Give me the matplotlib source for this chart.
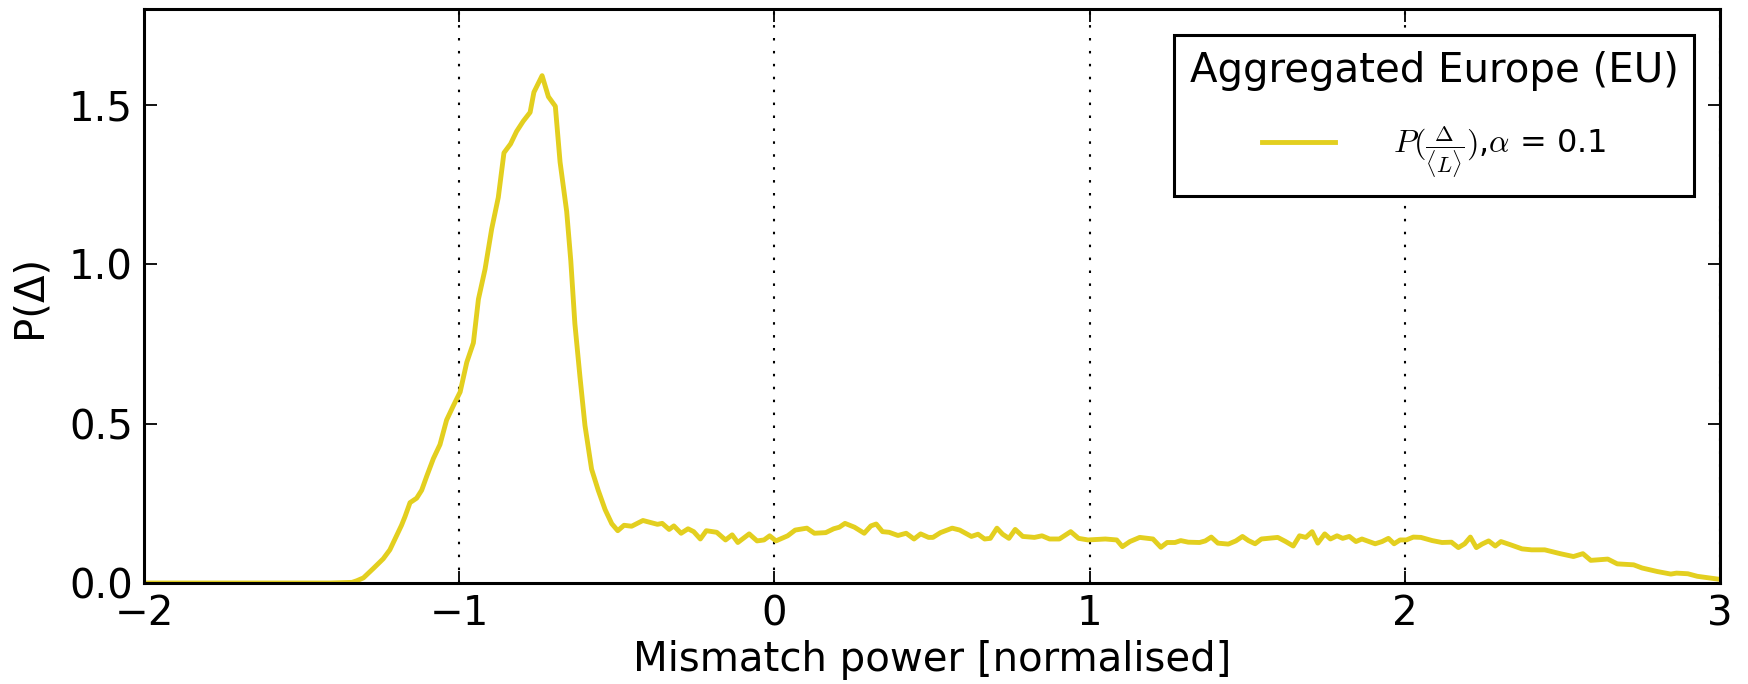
import matplotlib
matplotlib.use("Agg")
import matplotlib.pyplot as plt

# Mismatch distribution for aggregated Europe
mismatch = [
    -2.0, -1.6, -1.41, -1.34, -1.325, -1.304, -1.272, -1.241, -1.22, -1.204,
    -1.183, -1.172, -1.156, -1.135, -1.119, -1.103, -1.082, -1.061, -1.04, -1.019,
    -0.997, -0.976, -0.955, -0.939, -0.918, -0.897, -0.876, -0.858, -0.837, -0.818,
    -0.797, -0.775, -0.763, -0.737, -0.717, -0.695, -0.68, -0.659, -0.646, -0.633,
    -0.617, -0.601, -0.58, -0.559, -0.537, -0.516, -0.497, -0.477, -0.453, -0.417,
    -0.371, -0.356, -0.334, -0.319, -0.296, -0.274, -0.256, -0.235, -0.216, -0.183,
    -0.155, -0.134, -0.116, -0.08, -0.055, -0.033, -0.015, 0.005, 0.042, 0.066,
    0.103, 0.127, 0.163, 0.188, 0.206, 0.224, 0.254, 0.285, 0.306, 0.323,
    0.343, 0.364, 0.392, 0.418, 0.443, 0.464, 0.489, 0.503, 0.527, 0.564,
    0.588, 0.625, 0.646, 0.667, 0.685, 0.706, 0.724, 0.744, 0.764, 0.788,
    0.825, 0.849, 0.873, 0.904, 0.94, 0.965, 0.995, 1.05, 1.086, 1.104,
    1.128, 1.159, 1.201, 1.226, 1.246, 1.271, 1.289, 1.313, 1.349, 1.367,
    1.386, 1.407, 1.44, 1.464, 1.485, 1.504, 1.525, 1.545, 1.597, 1.622,
    1.646, 1.666, 1.686, 1.706, 1.724, 1.746, 1.764, 1.785, 1.803, 1.824,
    1.845, 1.864, 1.906, 1.928, 1.948, 1.966, 1.985, 2.005, 2.027, 2.051,
    2.087, 2.118, 2.148, 2.17, 2.19, 2.208, 2.227, 2.245, 2.266, 2.287,
    2.305, 2.335, 2.372, 2.402, 2.444, 2.493, 2.535, 2.565, 2.59, 2.644,
    2.674, 2.726, 2.753, 2.801, 2.844, 2.862, 2.898, 2.928, 2.965, 2.995,
]
density = [
    0.0, 0.0, 0.0, 0.002, 0.007, 0.016, 0.046, 0.076, 0.104, 0.137,
    0.181, 0.208, 0.252, 0.266, 0.291, 0.335, 0.39, 0.434, 0.511, 0.555,
    0.599, 0.692, 0.753, 0.89, 0.984, 1.11, 1.209, 1.349, 1.377, 1.416,
    1.448, 1.476, 1.539, 1.591, 1.525, 1.495, 1.32, 1.165, 1.011, 0.813,
    0.648, 0.494, 0.357, 0.291, 0.23, 0.186, 0.164, 0.181, 0.178, 0.196,
    0.184, 0.187, 0.168, 0.179, 0.156, 0.17, 0.161, 0.138, 0.164, 0.159,
    0.135, 0.151, 0.127, 0.154, 0.132, 0.135, 0.148, 0.132, 0.148, 0.166,
    0.172, 0.156, 0.158, 0.17, 0.175, 0.187, 0.175, 0.156, 0.179, 0.185,
    0.161, 0.159, 0.149, 0.156, 0.138, 0.154, 0.143, 0.143, 0.158, 0.172,
    0.166, 0.146, 0.153, 0.138, 0.14, 0.172, 0.153, 0.14, 0.168, 0.146,
    0.143, 0.148, 0.138, 0.138, 0.161, 0.14, 0.135, 0.138, 0.135, 0.114,
    0.13, 0.143, 0.138, 0.112, 0.127, 0.127, 0.133, 0.128, 0.127, 0.132,
    0.144, 0.125, 0.122, 0.132, 0.146, 0.133, 0.123, 0.138, 0.143, 0.13,
    0.116, 0.148, 0.143, 0.161, 0.125, 0.154, 0.138, 0.148, 0.14, 0.146,
    0.13, 0.138, 0.123, 0.13, 0.14, 0.123, 0.135, 0.135, 0.144, 0.143,
    0.133, 0.127, 0.128, 0.111, 0.123, 0.144, 0.111, 0.122, 0.132, 0.116,
    0.13, 0.12, 0.107, 0.104, 0.104, 0.092, 0.083, 0.092, 0.071, 0.075,
    0.06, 0.057, 0.047, 0.036, 0.028, 0.031, 0.029, 0.021, 0.016, 0.012,
]

x_ticks = [-2, -1, 0, 1, 2, 3]
y_ticks = [0.0, 0.5, 1.0, 1.5]

plt.rcParams["font.family"] = ["DejaVu Sans"]
plt.rcParams["mathtext.fontset"] = "cm"

fig = plt.figure(figsize=(17.48, 6.84), dpi=100)
ax = fig.add_axes([144 / 1748, 1 - 583 / 684, (1720 - 144) / 1748, (583 - 9) / 684])

ax.plot(mismatch, density, color="#e3cf1f", lw=3.5,
        label=r"$P(\frac{\Delta}{\langle L\rangle})$,$\alpha$ = 0.1")

ax.set_xlim(-2, 3)
ax.set_ylim(0, 1.8)
ax.set_xticks(x_ticks)
ax.set_yticks(y_ticks)
ax.set_yticklabels([f"{v:.1f}" for v in y_ticks])
ax.xaxis.grid(True, color="black", linestyle=(0, (1.2, 5)), linewidth=1.5)

ax.tick_params(direction="in", length=9, width=1.3, labelsize=29,
               top=True, right=True, pad=8)
for s in ax.spines.values():
    s.set_linewidth(2.2)

ax.set_xlabel("Mismatch power [normalised]", fontsize=29, labelpad=4)
ax.set_ylabel("P(Δ)", fontsize=29, labelpad=14)

leg = ax.legend(loc="upper right", title="Aggregated Europe (EU)",
                fontsize=23, title_fontsize=29, fancybox=False,
                edgecolor="black", framealpha=1, borderpad=0.5,
                labelspacing=1.05, handlelength=2.3, handletextpad=1.8,
                borderaxespad=0.8)
leg.get_frame().set_linewidth(2.2)

fig.savefig("out.png", dpi=100, facecolor="white")
